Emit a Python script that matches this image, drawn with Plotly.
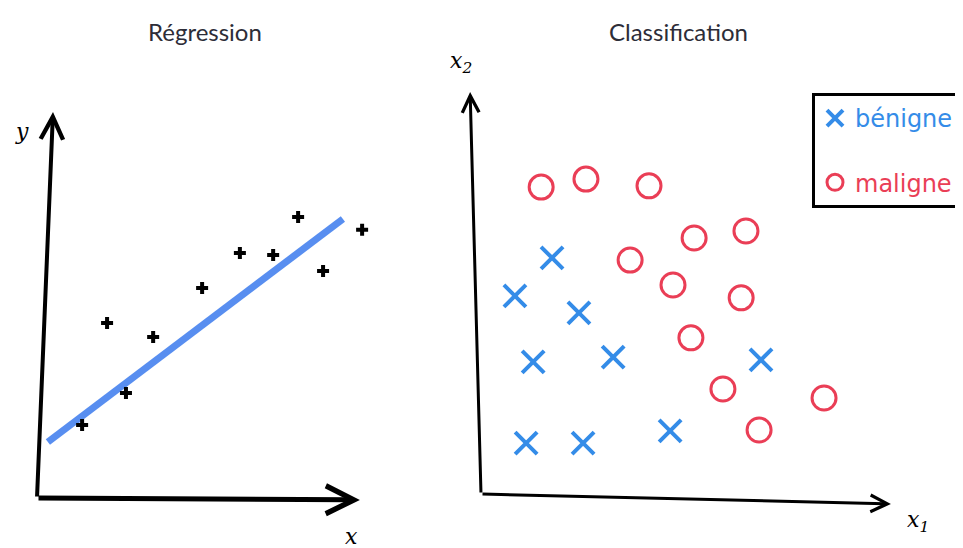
import plotly.graph_objects as go

# ---------------- data ----------------
# Regression panel (arbitrary units)
reg_x = [1.41, 2.19, 2.78, 3.63, 5.16, 6.34, 7.38, 8.16, 8.94, 10.16]
reg_y = [2.28, 5.47, 3.28, 5.03, 6.56, 7.66, 7.59, 8.78, 7.09, 8.38]
fit_x = [0.34, 9.56]
fit_y = [1.75, 8.72]

# Classification panel
malign_x1 = [1.88, 3.28, 5.25, 6.66, 8.28, 4.66, 6.00, 8.13, 6.56, 7.56, 10.72, 8.69]
malign_x2 = [9.59, 9.84, 9.63, 8.00, 8.22, 7.31, 6.53, 6.13, 4.88, 3.28, 3.00, 2.00]
benign_x1 = [2.22, 1.06, 3.06, 1.63, 4.13, 8.75, 1.41, 3.19, 5.91]
benign_x2 = [7.38, 6.19, 5.66, 4.13, 4.28, 4.19, 1.59, 1.59, 1.97]

titles = ["Régression", "Classification"]
legend_names = ["bénigne", "maligne"]

# ---------------- layout geometry ----------------
PAGE_OFF = 8                      # default body margin of the html page
W, H = 963 - PAGE_OFF, 548 - PAGE_OFF
PX = 32.0                         # pixels per data unit

def px(v):                        # window pixel -> figure pixel
    return v - PAGE_OFF

L_ORIGIN = (px(37), px(498))
R_ORIGIN = (px(481), px(494))
SPLIT = px(420)

BLUE_LINE = "rgb(88,142,240)"
BLUE = "rgb(52,140,232)"
RED = "rgb(234,62,86)"

fig = go.Figure()

fig.add_trace(go.Scatter(
    x=fit_x, y=fit_y, mode="lines", xaxis="x", yaxis="y",
    line=dict(color=BLUE_LINE, width=7), showlegend=False, hoverinfo="skip"))
fig.add_trace(go.Scatter(
    x=reg_x, y=reg_y, mode="markers", xaxis="x", yaxis="y",
    marker=dict(symbol="cross", size=10, color="black"),
    showlegend=False, hoverinfo="skip"))

fig.add_trace(go.Scatter(
    x=benign_x1, y=benign_x2, mode="markers", xaxis="x2", yaxis="y2",
    name=f'<span style="color:{BLUE}">{legend_names[0]}</span>',
    legendgroup="b",
    marker=dict(symbol="x-thin-open", size=22, color=BLUE,
                line=dict(color=BLUE, width=4)),
    hoverinfo="skip"))
fig.add_trace(go.Scatter(
    x=malign_x1, y=malign_x2, mode="markers", xaxis="x2", yaxis="y2",
    name=f'<span style="color:{RED}">{legend_names[1]}</span>',
    legendgroup="m",
    marker=dict(symbol="circle-open", size=24, color=RED,
                line=dict(color=RED, width=3)),
    hoverinfo="skip"))

def xr(origin_px, left_px, right_px):
    return [(left_px - origin_px) / PX, (right_px - origin_px) / PX]

def yr(origin_px):
    return [(origin_px - H) / PX, origin_px / PX]

hidden = dict(visible=False, showgrid=False, zeroline=False, fixedrange=True)

fig.update_layout(
    width=W, height=H,
    margin=dict(l=0, r=0, t=0, b=0),
    paper_bgcolor="white", plot_bgcolor="white",
    xaxis=dict(domain=[0, SPLIT / W], range=xr(L_ORIGIN[0], 0, SPLIT), **hidden),
    yaxis=dict(domain=[0, 1], range=yr(L_ORIGIN[1]), **hidden),
    xaxis2=dict(domain=[SPLIT / W, 1], range=xr(R_ORIGIN[0], SPLIT, W), **hidden),
    yaxis2=dict(domain=[0, 1], range=yr(R_ORIGIN[1]), anchor="x2", **hidden),
    showlegend=True,
    legend=dict(x=px(812) / W, y=1 - px(93) / H, xanchor="left", yanchor="top",
                bgcolor="white", bordercolor="black", borderwidth=3,
                font=dict(family="DejaVu Sans", size=24),
                tracegroupgap=30, itemsizing="trace"),
)

# hand-drawn style axes (arrows)
axes_arrows = [
    # (xref, yref, tail, head, width)
    ("x", "y", (0, 0), (0.5, 12.06), 4),
    ("x", "y", (0, 0), (10.09, -0.06), 5),
    ("x2", "y2", (0, 0), (-0.34, 12.56), 3),
    ("x2", "y2", (0, 0), (12.81, -0.31), 3),
]
for xref, yref, tail, head, w in axes_arrows:
    fig.add_annotation(x=head[0], y=head[1], ax=tail[0], ay=tail[1],
                       xref=xref, yref=yref, axref=xref, ayref=yref,
                       text="", showarrow=True, arrowhead=5, arrowsize=1.1,
                       arrowwidth=w, arrowcolor="black")

# axis labels
labels = [
    ("x", "y", -0.47, 11.45, "y"),
    ("x", "y", 9.84, -1.2, "x"),
    ("x2", "y2", -0.62, 13.5, "x<sub>2</sub>"),
    ("x2", "y2", 13.65, -0.85, "x<sub>1</sub>"),
]
for xref, yref, xv, yv, t in labels:
    fig.add_annotation(x=xv, y=yv, xref=xref, yref=yref, text=f"<i>{t}</i>",
                       showarrow=False,
                       font=dict(family="DejaVu Serif", size=22, color="black"))

# titles
for cx, t in zip([205, 678], titles):
    fig.add_annotation(x=px(cx) / W, y=1 - px(32) / H, xref="paper", yref="paper",
                       xanchor="center", yanchor="middle",
                       text=t, showarrow=False,
                       font=dict(family="Lato", size=24, color="#2d2d38"))

fig.write_html("out.html")
